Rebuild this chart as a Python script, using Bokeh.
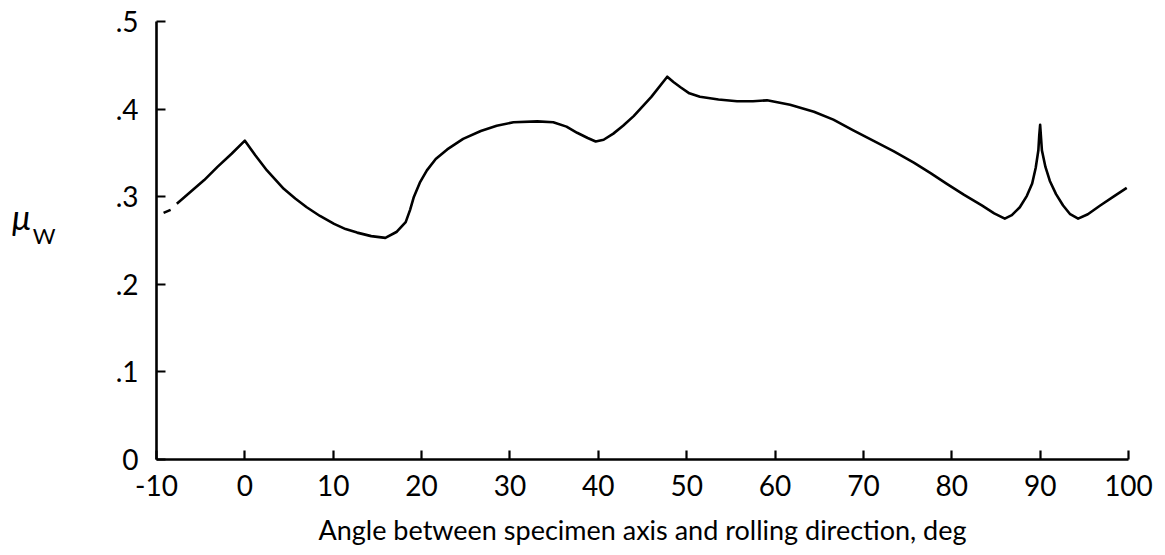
from bokeh.plotting import figure
from bokeh.models import Range1d, FixedTicker, Div
from bokeh.layouts import row
from bokeh.embed import file_html
from bokeh.resources import INLINE

# ---- data ----
angle = [-7.7, -6.2, -4.6, -3.1, -1.5, 0.0, 1.2, 2.5, 4.4, 5.7, 7.0, 8.5, 10.1, 11.4,
         12.7, 14.3, 15.9, 17.2, 18.2, 18.7, 19.1, 19.8, 20.6, 21.6, 22.9, 24.7, 26.7,
         28.5, 30.4, 33.1, 34.9, 36.4, 37.6, 38.8, 39.7, 40.6, 41.7, 42.8, 44.0, 46.0,
         47.8, 48.5, 49.3, 50.3, 51.5, 53.6, 55.7, 57.5, 59.1, 61.7, 64.4, 66.6, 68.8,
         71.1, 73.4, 75.7, 77.6, 79.4, 81.4, 83.4, 84.8, 86.0, 86.8, 87.7, 88.5, 89.1,
         89.5, 89.8, 89.9, 90.0, 90.2, 90.6, 91.1, 91.8, 92.6, 93.4, 94.3, 95.4, 96.8,
         98.3, 99.8]
mu_w = [0.292, 0.305, 0.319, 0.334, 0.349, 0.364, 0.347, 0.330, 0.309, 0.298, 0.288,
        0.278, 0.269, 0.263, 0.259, 0.255, 0.253, 0.260, 0.271, 0.285, 0.299, 0.316,
        0.330, 0.343, 0.354, 0.366, 0.375, 0.381, 0.385, 0.386, 0.385, 0.380, 0.373,
        0.367, 0.363, 0.365, 0.372, 0.381, 0.392, 0.414, 0.437, 0.431, 0.425, 0.418,
        0.414, 0.411, 0.409, 0.409, 0.410, 0.405, 0.397, 0.388, 0.376, 0.364, 0.352,
        0.339, 0.327, 0.315, 0.302, 0.290, 0.281, 0.275, 0.279, 0.288, 0.301, 0.315,
        0.333, 0.353, 0.370, 0.382, 0.353, 0.334, 0.318, 0.303, 0.290, 0.280, 0.275,
        0.280, 0.290, 0.300, 0.310]
# short detached dash at the left end
dash_angle = [-9.2, -8.4]
dash_mu = [0.2815, 0.285]

x_ticks = [-10, 0, 10, 20, 30, 40, 50, 60, 70, 80, 90, 100]
y_ticks = [0, 0.1, 0.2, 0.3, 0.4, 0.5]
y_tick_labels = ["0", ".1", ".2", ".3", ".4", ".5"]
x_title = "Angle between specimen axis and rolling direction, deg"

FONT = "Lato"
SIDE = 60  # width of the side strip holding the mu_W symbol

p = figure(width=1165 - SIDE, height=555, output_backend="svg", toolbar_location=None,
           x_range=Range1d(-10, 100), y_range=Range1d(0, 0.5),
           min_border_left=156 - SIDE, min_border_right=37, min_border_top=21,
           min_border_bottom=96)
p.outline_line_color = None
p.grid.visible = False
p.background_fill_color = "white"
p.border_fill_color = "white"

p.line(angle, mu_w, line_color="black", line_width=2.6, line_join="round")
p.line(dash_angle, dash_mu, line_color="black", line_width=2.6)

for ax in (p.xaxis[0], p.yaxis[0]):
    ax.axis_line_width = 2.6
    ax.axis_line_color = "black"
    ax.major_tick_line_width = 2.2
    ax.major_tick_line_color = "black"
    ax.major_tick_in = 9
    ax.major_tick_out = 0
    ax.minor_tick_line_color = None
    ax.major_label_text_font = FONT
    ax.major_label_text_font_size = "28px"
    ax.major_label_text_color = "black"

p.xaxis.ticker = FixedTicker(ticks=x_ticks)
p.yaxis.ticker = FixedTicker(ticks=y_ticks)
p.yaxis.major_label_overrides = {t: l for t, l in zip(y_ticks, y_tick_labels)}
p.xaxis.major_label_overrides = {t: str(t) for t in x_ticks}
p.xaxis.major_label_standoff = 15
p.yaxis.major_label_standoff = 18

p.xaxis.axis_label = x_title
p.xaxis.axis_label_text_font = FONT
p.xaxis.axis_label_text_font_size = "27px"
p.xaxis.axis_label_text_font_style = "normal"
p.xaxis.axis_label_text_color = "black"
p.xaxis.axis_label_standoff = 14

# y-axis symbol mu_W in a narrow strip left of the plot
sym = Div(
    text=('<div style="padding-top:200px; padding-left:12px; font-family:Lato; '
          'font-size:34px; line-height:1; color:black; white-space:nowrap;">'
          '<span style="font-style:italic;">μ</span>'
          '<span style="position:relative; top:14px; font-size:22px; margin-left:2px;">W</span>'
          '</div>'),
    width=SIDE, height=555, margin=(0, 0, 0, 0))

layout = row(sym, p, spacing=0)
open("out.html", "w").write(file_html(layout, INLINE))
